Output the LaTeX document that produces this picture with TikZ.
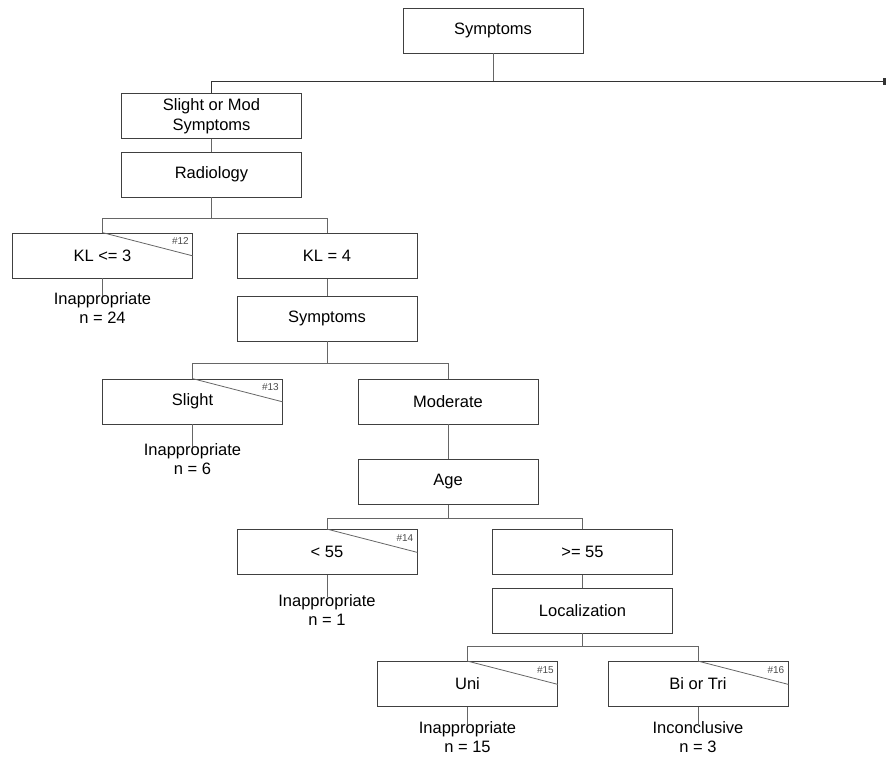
\documentclass[tikz,border=0pt]{standalone}
\usepackage{fontspec}
\setmainfont{Liberation Sans}
\usetikzlibrary{arrows.meta}
\begin{document}
\begin{tikzpicture}[x=1pt,y=-1pt,
  box/.style={draw=black!75,line width=0.8pt,minimum width=180pt,minimum height=45pt,inner sep=0pt,align=center,font=\fontsize{16.5}{20}\selectfont},
  conn/.style={draw=black!60,line width=0.8pt},
  leaf/.style={anchor=north,inner sep=0pt,align=center,font=\fontsize{16.5}{19}\selectfont},
  tag/.style={anchor=north east,inner sep=0pt,text=black!70,font=\fontsize{10}{12}\selectfont}
]
\useasboundingbox (0,0) rectangle (887,756);
% nodes
\node[box] (sym) at (493,30.5) {Symptoms};
\node[box] (smod) at (211.5,116) {Slight or Mod\\Symptoms};
\node[box] (rad) at (211.5,174.5) {Radiology};
\node[box] (kl3) at (102.5,255.5) {KL <= 3};
\node[box] (kl4) at (327,256) {KL = 4};
\node[box] (sym2) at (327,318.5) {Symptoms};
\node[box] (slight) at (192.5,401.5) {Slight};
\node[box] (mod) at (448,401.5) {Moderate};
\node[box] (age) at (448,482) {Age};
\node[box] (lt) at (327,552) {< 55};
\node[box] (ge) at (582.5,552) {>= 55};
\node[box] (loc) at (582.5,610.5) {Localization};
\node[box] (uni) at (467.5,684) {Uni};
\node[box] (bi) at (698,684) {Bi or Tri};
% leaves
\node[leaf] (l12) at (102.5,292.5) {Inappropriate\\n = 24};
\node[leaf] (l13) at (192.5,443.5) {Inappropriate\\n = 6};
\node[leaf] (l14) at (327,594) {Inappropriate\\n = 1};
\node[leaf] (l15) at (467.5,721.5) {Inappropriate\\n = 15};
\node[leaf] (l16) at (698,721.5) {Inconclusive\\n = 3};
% diagonals and tags
\foreach \n/\t in {kl3/12,slight/13,lt/14,uni/15,bi/16}{
  \draw[conn] (\n.north) -- ([yshift=-0.5\pgflinewidth]\n.east);
  \node[tag] at ([xshift=-4pt,yshift=-5pt]\n.north east) {\#\t};
}
% junctions
\coordinate (j0) at (493,81);
\coordinate (jend) at (886,81);
\coordinate (j1) at (211.5,218);
\coordinate (j2) at (327,363);
\coordinate (j3) at (448,518);
\coordinate (j4) at (582.5,646);
% connectors
\draw[conn] (sym.south) -- (j0);
\draw[conn,black!80,-{Rectangle[length=3pt,width=7pt]}] (smod.north) |- (jend);
\draw[conn] (smod.south) -- (rad.north);
\draw[conn] (rad.south) -- (j1);
\draw[conn] (kl3.north) |- (kl4.north |- j1) -- (kl4.north);
\draw[conn] (kl4.south) -- (sym2.north);
\draw[conn] (sym2.south) -- (j2);
\draw[conn] (slight.north) |- (mod.north |- j2) -- (mod.north);
\draw[conn] (mod.south) -- (age.north);
\draw[conn] (age.south) -- (j3);
\draw[conn] (lt.north) |- (ge.north |- j3) -- (ge.north);
\draw[conn] (ge.south) -- (loc.north);
\draw[conn] (loc.south) -- (j4);
\draw[conn] (uni.north) |- (bi.north |- j4) -- (bi.north);
\draw[conn] (kl3.south) -- ([yshift=-3pt]l12.north);
\draw[conn] (slight.south) -- ([yshift=-3pt]l13.north);
\draw[conn] (lt.south) -- ([yshift=-3pt]l14.north);
\draw[conn] (uni.south) -- ([yshift=-3pt]l15.north);
\draw[conn] (bi.south) -- ([yshift=-3pt]l16.north);
\end{tikzpicture}
\end{document}
